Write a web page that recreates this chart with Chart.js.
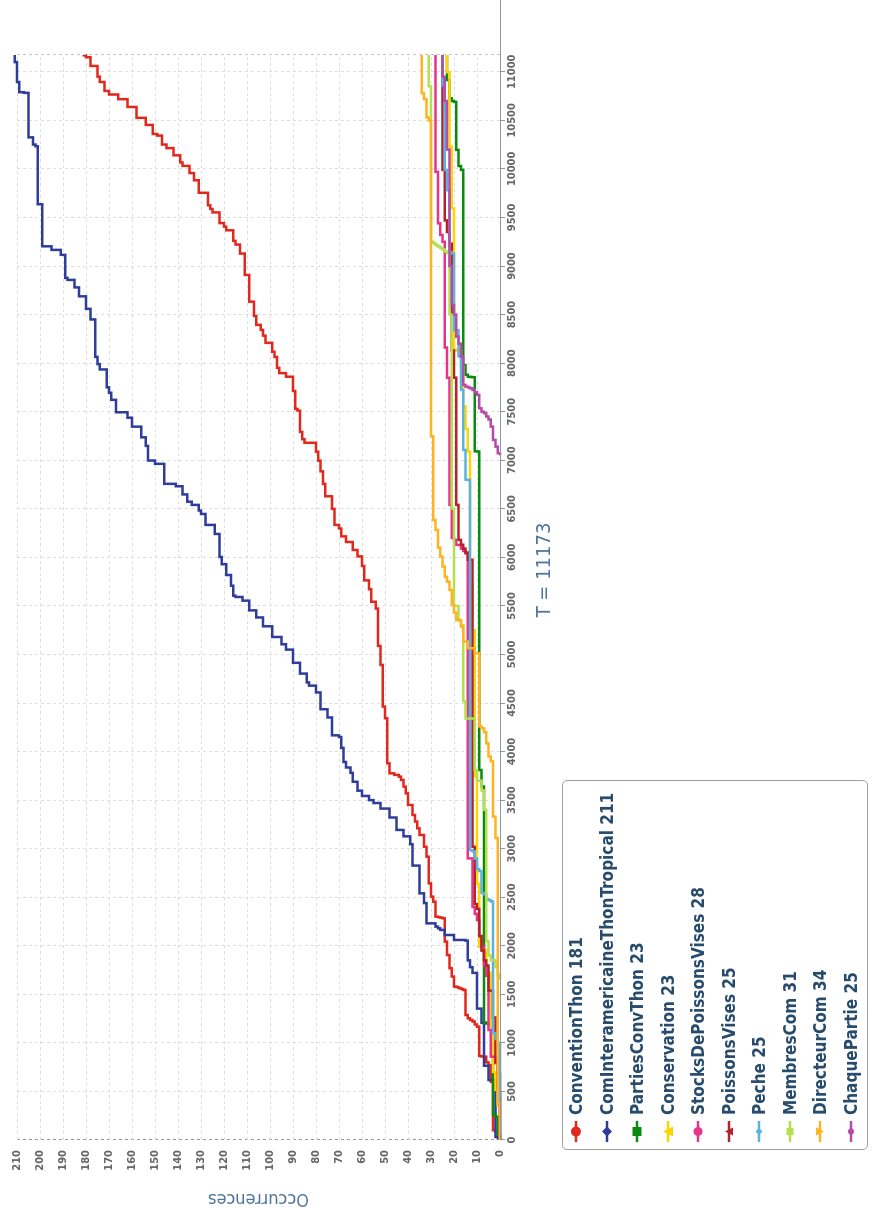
<!DOCTYPE html>
<html>
<head>
<meta charset="utf-8">
<title>Occurrences</title>
<script src="https://cdn.jsdelivr.net/npm/chart.js@4.4.0/dist/chart.umd.min.js"></script>
<style>
  html, body { margin: 0; padding: 0; background: #fff; overflow: hidden; }
  body { width: 873px; height: 1209px; position: relative; }
  /* the chart is laid out 1209x873 and turned a quarter turn to the left */
  #page { position: absolute; left: 0; top: 0; width: 1209px; height: 873px;
          transform-origin: 0 0; transform: translateY(1209px) rotate(-90deg); }
  #chart { position: absolute; left: 0; top: 0; }
  #legend { position: absolute; left: 59px; top: 562px; width: 370px; height: 306px;
            box-sizing: border-box; border: 1px solid #a0a0a0; border-radius: 5px; background: #fff; }
  #legend .item { position: absolute; left: 0; height: 20px; width: 368px; }
  #legend svg { position: absolute; left: 6px; top: 0; }
  #legend span { position: absolute; left: 34px; top: 0; line-height: 20px; white-space: nowrap;
                 font: bold 17px "DejaVu Sans Condensed", "DejaVu Sans", sans-serif; color: #274b6d; }
</style>
</head>
<body>
<div id="page">
  <canvas id="chart" width="1209" height="873"></canvas>
  <div id="legend"></div>
</div>
<script>
// T of each event and the running count after it
var tMax = 11173;
var tTicks = [0, 500, 1000, 1500, 2000, 2500, 3000, 3500, 4000, 4500, 5000, 5500,
              6000, 6500, 7000, 7500, 8000, 8500, 9000, 9500, 10000, 10500, 11000];

var conventionThon = [[0,0],[50,1],[86,2],[100,3],[600,4],[772,5],[800,6],[858,7],[860,8],[865,9],[1167,10],[1190,11],[1220,12],[1236,13],[1253,14],[1287,15],[1545,16],[1555,17],[1565,18],[1575,19],[1580,20],[1683,21],[1769,22],[1905,23],[2043,24],[2283,25],[2290,26],[2295,27],[2300,28],[2454,29],[2506,30],[2643,31],[2918,32],[3020,33],[3141,35],[3210,36],[3279,37],[3347,38],[3450,40],[3570,41],[3639,42],[3708,43],[3742,44],[3760,46],[3776,48],[3879,49],[4343,50],[4463,51],[4892,52],[5088,53],[5473,54],[5543,56],[5671,57],[5763,59],[5911,60],[6010,62],[6076,64],[6158,67],[6216,69],[6297,70],[6334,72],[6499,73],[6629,76],[6756,77],[6886,78],[6996,79],[7088,80],[7180,85],[7217,86],[7292,87],[7511,88],[7529,89],[7713,90],[7860,93],[7897,96],[7951,97],[8064,98],[8117,99],[8209,102],[8283,103],[8342,104],[8394,106],[8486,107],[8633,109],[8908,111],[9128,113],[9221,115],[9259,116],[9368,119],[9405,120],[9442,122],[9552,125],[9588,126],[9625,127],[9754,131],[9883,133],[9957,135],[10031,138],[10067,139],[10140,142],[10214,145],[10251,147],[10343,149],[10360,151],[10453,154],[10526,158],[10638,162],[10718,166],[10766,170],[10803,172],[10895,174],[10950,175],[11060,178],[11150,180],[11170,181]];

var comInterThonTropical = [[0,0],[20,1],[31,2],[618,5],[765,7],[1206,8],[1353,10],[1721,12],[1780,13],[1850,14],[2053,15],[2060,20],[2111,24],[2163,26],[2180,27],[2197,28],[2231,32],[2440,33],[2540,35],[2826,38],[3046,39],[3127,42],[3193,45],[3321,48],[3413,52],[3470,55],[3500,57],[3543,60],[3597,62],[3689,64],[3781,65],[3836,67],[3893,68],[4038,69],[4150,70],[4167,73],[4351,75],[4436,78],[4609,80],[4679,83],[4712,84],[4803,87],[4914,90],[5050,93],[5105,95],[5180,99],[5290,103],[5381,106],[5454,109],[5554,112],[5592,115],[5605,116],[5708,117],[5818,119],[5929,121],[6004,122],[6241,124],[6334,128],[6447,130],[6482,131],[6540,134],[6573,136],[6648,138],[6732,141],[6757,146],[6963,150],[6997,153],[7148,154],[7236,156],[7346,160],[7438,162],[7494,167],[7622,169],[7695,170],[7751,171],[7935,174],[7990,175],[8064,176],[8450,178],[8559,180],[8688,183],[8780,185],[8857,188],[8878,189],[9115,191],[9166,195],[9203,199],[9636,201],[10233,202],[10251,203],[10325,205],[10783,207],[10790,209],[10895,210],[11100,211]];

var partiesConvThon = [[0,0],[60,1],[240,2],[260,3],[1184,4],[1190,5],[1200,6],[1210,7],[3640,8],[3810,9],[7090,10],[7092,11],[7855,12],[7857,13],[7860,14],[7880,15],[7980,16],[9990,17],[10030,18],[10196,19],[10690,20],[10700,21],[10727,22],[10915,23]];

var conservation = [[0,0],[360,1],[515,2],[700,3],[1167,4],[1720,5],[1725,6],[1957,7],[1960,8],[1990,9],[2640,10],[3742,11],[5250,12],[5700,13],[7090,14],[7323,15],[7555,16],[7965,17],[8130,19],[8140,20],[9595,21],[10230,22],[10996,23]];

var stocksDePoissonsVises = [[0,0],[690,1],[790,2],[858,4],[1134,5],[1690,6],[1800,7],[1990,8],[2100,9],[2265,10],[2330,11],[2400,12],[2900,14],[6040,15],[6066,16],[6090,17],[6128,19],[6180,20],[6200,21],[6540,22],[7850,23],[8160,24],[9250,25],[9320,26],[9440,27],[9970,28]];

var poissonsVises = [[0,0],[500,1],[800,2],[1262,3],[1538,5],[1796,6],[1850,7],[1950,8],[2100,9],[2380,10],[2430,11],[3020,12],[5975,14],[6050,15],[6090,16],[6130,17],[6180,18],[6540,19],[7850,20],[8130,21],[9230,22],[9350,23],[9470,24],[9990,25]];

var peche = [[0,0],[1000,1],[1040,2],[1100,3],[2457,4],[2470,5],[2480,6],[2530,7],[2545,8],[2770,9],[2790,10],[2898,11],[2972,12],[2985,13],[6797,14],[6800,15],[7106,16],[7725,17],[8070,18],[8340,20],[9130,21],[9140,22],[9780,23],[9990,24],[10860,25]];

var membresCom = [[1650,0],[1703,1],[1780,2],[1852,4],[1900,5],[2048,6],[3400,7],[3600,8],[3700,10],[3810,11],[4340,15],[4519,16],[5300,17],[5350,18],[5500,20],[6500,21],[8500,22],[9133,23],[9150,24],[9170,25],[9185,26],[9200,27],[9215,28],[9235,29],[9252,30],[10850,31]];

var directeurCom = [[0,0],[380,1],[3110,2],[3330,3],[3900,4],[3950,5],[4085,6],[4200,7],[4240,8],[4260,9],[5012,11],[5064,14],[5132,16],[5287,17],[5355,19],[5430,20],[5510,21],[5664,22],[5750,23],[5800,24],[5905,25],[6008,26],[6100,27],[6282,28],[6385,29],[7246,30],[10500,31],[10530,32],[10717,33],[10780,34]];

var chaquePartie = [[7050,0],[7072,1],[7140,2],[7209,3],[7346,4],[7420,5],[7450,6],[7485,7],[7500,8],[7535,9],[7673,10],[7700,11],[7724,12],[7740,13],[7750,14],[7758,15],[7776,16],[8067,17],[8200,18],[8273,19],[8500,20],[8600,21],[9000,22],[10200,23],[10700,24],[10950,25]];

var seriesNames = ['ConventionThon', 'ComInteramericaineThonTropical', 'PartiesConvThon', 'Conservation',
  'StocksDePoissonsVises', 'PoissonsVises', 'Peche', 'MembresCom', 'DirecteurCom', 'ChaquePartie'];
var seriesData = [conventionThon, comInterThonTropical, partiesConvThon, conservation,
  stocksDePoissonsVises, poissonsVises, peche, membresCom, directeurCom, chaquePartie];

var colors = ['#e2281c', '#2e3d9a', '#0b8a12', '#ffd500', '#e8338a', '#b5232a', '#5ab2e0', '#b4e04e', '#ffb320', '#b64aa8'];
var markers = ['circle', 'diamond', 'square', 'triangle', 'circle', 'triangle', 'diamond', 'square', 'triangleDown', 'circle'];
var markerSize = [5, 5, 4.5, 5, 4.5, 4, 3.5, 3.5, 4, 3];

var FONT = '"DejaVu Sans Condensed", "DejaVu Sans", sans-serif';

var datasets = seriesData.map(function (pts, i) {
    var last = pts[pts.length - 1][1];
    var d = pts.map(function (p) { return { x: p[0], y: p[1] }; });
    d.push({ x: tMax, y: last });
    return {
        label: seriesNames[i] + ' ' + last,
        data: d,
        stepped: true,
        borderColor: colors[i],
        backgroundColor: colors[i],
        borderWidth: 2.5,
        pointRadius: 0,
        fill: false,
        clip: false,
        order: seriesData.length - i   // later series on top
    };
});

// axis line running out to the edge, the dashed line at tMax and the T title
var extras = {
    id: 'extras',
    afterDatasetsDraw: function (chart) {
        var ctx = chart.ctx, a = chart.chartArea;
        ctx.save();
        ctx.setLineDash([3, 3]);
        ctx.strokeStyle = '#c8c8c8';
        ctx.lineWidth = 1;
        ctx.beginPath();
        ctx.moveTo(Math.round(a.right) + 0.5, a.top);
        ctx.lineTo(Math.round(a.right) + 0.5, a.bottom);
        ctx.stroke();
        ctx.setLineDash([]);
        ctx.strokeStyle = '#8d98a6';
        ctx.beginPath();
        ctx.moveTo(a.left, Math.round(a.bottom) + 0.5);
        ctx.lineTo(chart.width, Math.round(a.bottom) + 0.5);
        ctx.stroke();
        ctx.fillStyle = '#4d759e';
        ctx.font = '20px ' + FONT;
        ctx.textAlign = 'center';
        ctx.textBaseline = 'middle';
        ctx.fillText('T = ' + tMax, (a.left + chart.width) / 2, a.bottom + 45);
        ctx.restore();
    }
};

var chart = new Chart(document.getElementById('chart').getContext('2d'), {
    type: 'line',
    data: { datasets: datasets },
    options: {
        responsive: false,
        animation: false,
        layout: { padding: { left: 0, top: 17, right: 55, bottom: 313 } },
        plugins: { legend: { display: false }, tooltip: { enabled: false } },
        scales: {
            x: {
                type: 'linear', min: 0, max: tMax,
                afterBuildTicks: function (s) {
                    s.ticks = tTicks.map(function (v) { return { value: v }; });
                },
                ticks: { autoSkip: false, maxRotation: 0, padding: 1,
                         callback: function (v) { return String(v); },
                         color: '#666', font: { family: FONT, size: 11, weight: 'bold' } },
                grid: { color: function (c) { return c.tick && c.tick.value === 0 ? '#999' : '#dedede'; },
                        tickColor: '#8d98a6', tickLength: 5, tickBorderDash: [] },
                border: { display: false, dash: [3, 3] },
                afterFit: function (s) { s.height = 60; }
            },
            y: {
                min: 0, max: 210,
                ticks: { stepSize: 10, autoSkip: false, padding: 10,
                         color: '#666', font: { family: FONT, size: 11, weight: 'bold' } },
                grid: { color: '#dedede', drawTicks: false },
                border: { display: false, dash: [3, 3] },
                title: { display: true, text: 'Occurrences', color: '#4d759e', padding: 0,
                         font: { family: FONT, size: 18, weight: 'normal' } },
                afterFit: function (s) { s.width = 69; }
            }
        }
    },
    plugins: [extras]
});

function markerSvg(shape, color, r) {
    var s = '<svg width="24" height="20" viewBox="0 0 24 20">' +
        '<line x1="1" y1="10" x2="22" y2="10" stroke="' + color + '" stroke-width="2.5"/>';
    var cx = 11.5, cy = 10;
    if (shape === 'circle') {
        s += '<circle cx="' + cx + '" cy="' + cy + '" r="' + r + '" fill="' + color + '"/>';
    } else if (shape === 'square') {
        s += '<rect x="' + (cx - r) + '" y="' + (cy - r) + '" width="' + 2 * r + '" height="' + 2 * r + '" fill="' + color + '"/>';
    } else if (shape === 'diamond') {
        s += '<polygon points="' + cx + ',' + (cy - r) + ' ' + (cx + r) + ',' + cy + ' ' + cx + ',' + (cy + r) + ' ' + (cx - r) + ',' + cy + '" fill="' + color + '"/>';
    } else if (shape === 'triangle') {
        s += '<polygon points="' + cx + ',' + (cy - r) + ' ' + (cx + r) + ',' + (cy + r) + ' ' + (cx - r) + ',' + (cy + r) + '" fill="' + color + '"/>';
    } else {
        s += '<polygon points="' + (cx - r) + ',' + (cy - r) + ' ' + (cx + r) + ',' + (cy - r) + ' ' + cx + ',' + (cy + r) + '" fill="' + color + '"/>';
    }
    return s + '</svg>';
}

var legend = document.getElementById('legend');
datasets.forEach(function (ds, i) {
    var row = document.createElement('div');
    row.className = 'item';
    row.style.top = (3 + 30.5 * i) + 'px';
    row.innerHTML = markerSvg(markers[i], colors[i], markerSize[i]) + '<span>' + ds.label + '</span>';
    legend.appendChild(row);
});
</script>
</body>
</html>
